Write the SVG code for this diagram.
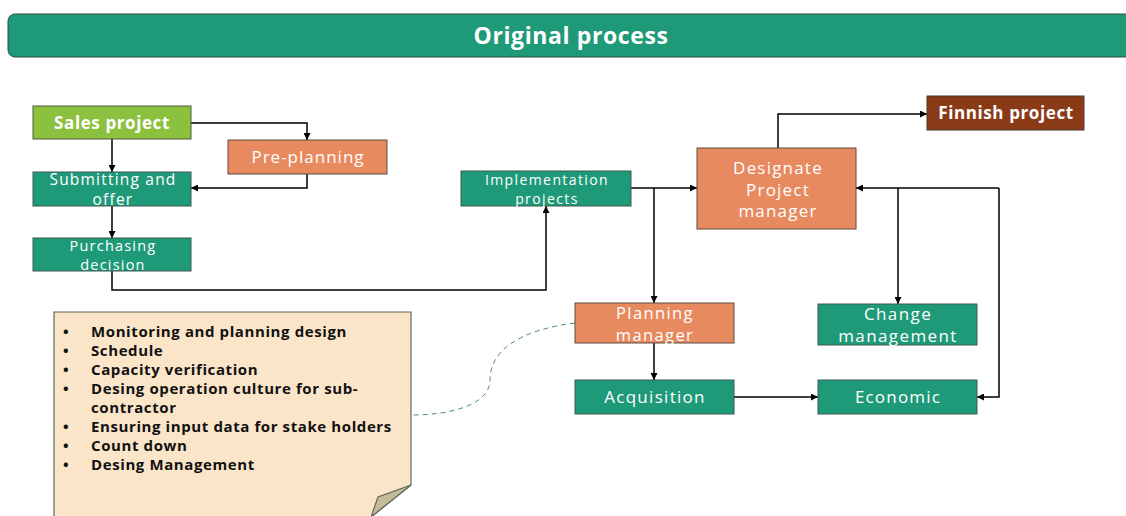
<svg xmlns="http://www.w3.org/2000/svg" width="1126" height="516" viewBox="0 0 1126 516">
  <defs>
    <marker id="arrow" viewBox="0 0 10 10" refX="10" refY="5" markerWidth="7" markerHeight="7" markerUnits="userSpaceOnUse" orient="auto">
      <path d="M0,0 L10,5 L0,10 z" fill="#000"/>
    </marker>
    <style>
      .teal { fill: #1f9a78; stroke: #3d5a50; stroke-width: 1; }
      .orange { fill: #e88a5f; stroke: #5f4a40; stroke-width: 1; }
      .lime { fill: #8cc13f; stroke: #4d5f3a; stroke-width: 1; }
      .brown { fill: #8b3a17; stroke: #4a3a30; stroke-width: 1; }
      .lbl { font-family: "Open Sans", "Liberation Sans", sans-serif; fill: #fff; text-anchor: middle; }
      .bold { font-weight: bold; }
      .conn { fill: none; stroke: #000; stroke-width: 1.5; }
      .note { font-family: "Open Sans", "Liberation Sans", sans-serif; font-size: 15px; font-weight: bold; fill: #111; letter-spacing: 0.6px; }
    </style>
  </defs>

  <rect width="1126" height="516" fill="#fff"/>

  <!-- header bar -->
  <g id="header">
    <rect x="8" y="14" width="1130" height="43" rx="7" fill="#1f9a78" stroke="#2f4a40" stroke-width="1"/>
    <text x="571" y="44" class="lbl bold" font-size="23" letter-spacing="0.6">Original process</text>
  </g>

  <!-- connectors -->
  <g id="connectors">
    <path class="conn" d="M191,123 H307 V140" marker-end="url(#arrow)"/>
    <path class="conn" d="M112,139 V172" marker-end="url(#arrow)"/>
    <path class="conn" d="M307,174 V188 H191" marker-end="url(#arrow)"/>
    <path class="conn" d="M112,206 V238" marker-end="url(#arrow)"/>
    <path class="conn" d="M112,271 V290 H546 V206" marker-end="url(#arrow)"/>
    <path class="conn" d="M631,188 H697" marker-end="url(#arrow)"/>
    <path class="conn" d="M654,188 V303" marker-end="url(#arrow)"/>
    <path class="conn" d="M778,148 V114 H927" marker-end="url(#arrow)"/>
    <path class="conn" d="M654,343 V380" marker-end="url(#arrow)"/>
    <path class="conn" d="M734,397 H818" marker-end="url(#arrow)"/>
    <path class="conn" d="M999,188 V397 H977" marker-end="url(#arrow)"/>
    <path class="conn" d="M999,188 H856" marker-end="url(#arrow)"/>
    <path class="conn" d="M898,188 V304" marker-end="url(#arrow)"/>
    <path d="M575,323 C520,330 490,350 490,380 C490,405 450,415 412,415" fill="none" stroke="#4f8a80" stroke-width="1" stroke-dasharray="5,4"/>
  </g>

  <g id="sales-project">
    <rect class="lime" x="33" y="106" width="158" height="33"/>
    <text class="lbl bold" x="112" y="129" font-size="17" letter-spacing="0.6">Sales project</text>
  </g>
  <g id="pre-planning">
    <rect class="orange" x="228" y="140" width="159" height="34"/>
    <text class="lbl" x="308" y="163" font-size="17" letter-spacing="1">Pre-planning</text>
  </g>
  <g id="submitting-offer">
    <rect class="teal" x="33" y="172" width="158" height="34"/>
    <text class="lbl" x="113" y="185" font-size="15.5" letter-spacing="1.2">Submitting and</text>
    <text class="lbl" x="113" y="205" font-size="15.5" letter-spacing="1.2">offer</text>
  </g>
  <g id="purchasing-decision">
    <rect class="teal" x="33" y="238" width="158" height="33"/>
    <text class="lbl" x="113" y="251" font-size="14.5" letter-spacing="1.2">Purchasing</text>
    <text class="lbl" x="113" y="270" font-size="14.5" letter-spacing="1.2">decision</text>
  </g>
  <g id="implementation-projects">
    <rect class="teal" x="461" y="171" width="170" height="35"/>
    <text class="lbl" x="547" y="185" font-size="14" letter-spacing="1.4">Implementation</text>
    <text class="lbl" x="547" y="204" font-size="14" letter-spacing="1.4">projects</text>
  </g>
  <g id="designate-pm">
    <rect class="orange" x="697" y="148" width="159" height="81"/>
    <text class="lbl" x="778" y="174" font-size="17" letter-spacing="1.2">Designate</text>
    <text class="lbl" x="778" y="196" font-size="17" letter-spacing="1.2">Project</text>
    <text class="lbl" x="778" y="217" font-size="17" letter-spacing="1.2">manager</text>
  </g>
  <g id="finnish-project">
    <rect class="brown" x="927" y="96" width="157" height="34"/>
    <text class="lbl bold" x="1006" y="119" font-size="17" letter-spacing="0.6">Finnish project</text>
  </g>
  <g id="planning-manager">
    <rect class="orange" x="575" y="303" width="159" height="40"/>
    <text class="lbl" x="655" y="319" font-size="16.5" letter-spacing="1.4">Planning</text>
    <text class="lbl" x="655" y="341" font-size="16.5" letter-spacing="1.4">manager</text>
  </g>
  <g id="change-management">
    <rect class="teal" x="818" y="304" width="159" height="41"/>
    <text class="lbl" x="898" y="320" font-size="17" letter-spacing="1.4">Change</text>
    <text class="lbl" x="898" y="342" font-size="17" letter-spacing="1.4">management</text>
  </g>
  <g id="acquisition">
    <rect class="teal" x="575" y="380" width="159" height="34"/>
    <text class="lbl" x="655" y="403" font-size="17" letter-spacing="1.3">Acquisition</text>
  </g>
  <g id="economic">
    <rect class="teal" x="818" y="380" width="159" height="34"/>
    <text class="lbl" x="898" y="403" font-size="17" letter-spacing="1.2">Economic</text>
  </g>

  <!-- note card with folded corner -->
  <g id="note">
    <path d="M54,312 H411 V485 L371,517 H54 Z" fill="#fbe5c9" stroke="#5a6a5a" stroke-width="1.2"/>
    <path d="M411,485 L378,497 L371,517 Z" fill="#c9b99b" stroke="#5a6a5a" stroke-width="1.2"/>
    <g class="note">
      <text x="63" y="337">•</text><text x="91" y="337">Monitoring and planning design</text>
      <text x="63" y="356">•</text><text x="91" y="356">Schedule</text>
      <text x="63" y="375">•</text><text x="91" y="375">Capacity verification</text>
      <text x="63" y="394">•</text><text x="91" y="394">Desing operation culture for sub-</text>
      <text x="91" y="413">contractor</text>
      <text x="63" y="432">•</text><text x="91" y="432">Ensuring input data for stake holders</text>
      <text x="63" y="451">•</text><text x="91" y="451">Count down</text>
      <text x="63" y="470">•</text><text x="91" y="470">Desing Management</text>
    </g>
  </g>
</svg>
